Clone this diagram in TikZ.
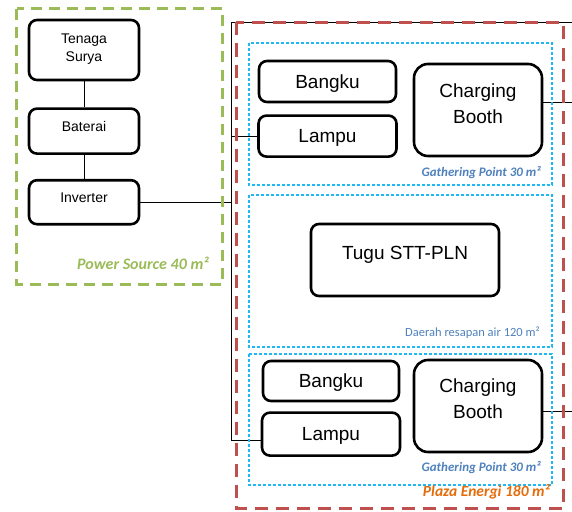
\documentclass[tikz,border=0pt]{standalone}
\usepackage{fontspec}
\setmainfont{Liberation Sans}
\newfontfamily\calfont{Carlito}
\usetikzlibrary{positioning}

\definecolor{psgreen}{RGB}{155,187,89}
\definecolor{plazared}{RGB}{192,80,77}
\definecolor{zoneblue}{RGB}{30,185,245}
\definecolor{lblblue}{RGB}{79,129,189}
\definecolor{lblorange}{RGB}{228,108,10}

\newcommand{\twolines}[2]{\begin{tabular}[b]{@{}c@{}}#1\\#2\end{tabular}}

\begin{document}
\begin{tikzpicture}[x=1pt,y=-1pt,thin,node distance=26pt]
  \tikzstyle{psbox}=[draw,line width=2.6pt,rounded corners=8pt,inner sep=0pt,
                     minimum width=110pt,font=\fontsize{14}{18}\selectfont,
                     text height=7pt,text depth=7pt]
  \tikzstyle{pzbox}=[draw,line width=2.6pt,rounded corners=8pt,inner sep=0pt,
                     font=\fontsize{19}{26}\selectfont,text height=14pt,text depth=1pt]
  \tikzstyle{cbbox}=[pzbox,rounded corners=14pt,minimum width=128pt,minimum height=92pt,
                     text height=36pt,text depth=10pt]
  \tikzstyle{zone}=[line width=1.1pt,zoneblue,dash pattern=on 3pt off 2pt]
  \tikzstyle{lbl}=[anchor=base east,inner sep=0pt]

  \useasboundingbox (0,0) rectangle (572,511);

  % power source
  \node[psbox,minimum height=60pt,text height=30pt,text depth=6pt] (ts) at (84,50)
        {\twolines{Tenaga}{Surya}};
  \node[psbox,minimum height=45pt] (bat) [below=26pt of ts] {Baterai};
  \node[psbox,minimum height=44pt] (inv) [below=24pt of bat] {Inverter};

  % plaza energi
  \node[pzbox,minimum width=137pt,minimum height=41pt] (bangku1) at (327.5,81.5) {Bangku};
  \node[pzbox,minimum width=138pt,minimum height=41pt] (lampu1) [below=11pt of bangku1] {Lampu};
  \node[cbbox,text height=37pt,text depth=11pt] (cb1) at (478,110) {\twolines{Charging}{Booth}};

  \node[pzbox,minimum width=188pt,minimum height=72pt,text height=8pt,text depth=10pt]
        (tugu) at (405,260) {Tugu STT-PLN};

  \node[pzbox,minimum width=136pt,minimum height=40pt] (bangku2) at (331,381) {Bangku};
  \node[pzbox,minimum width=138pt,minimum height=43pt] (lampu2) [below=9pt of bangku2] {Lampu};
  \node[cbbox,text height=35pt,text depth=11pt] (cb2) at (478,406) {\twolines{Charging}{Booth}};

  % cable
  \coordinate (bustop) at (231,22);
  \coordinate (busbot) at (231,440);
  \coordinate (rtop) at (572,22);
  \coordinate (rcb1) at (572,102);
  \coordinate (rcb2) at (572,411);

  \draw (ts) -- (bat);
  \draw (bat) -- (inv);
  \draw (inv.east) -- (inv.east -| bustop);
  \draw (rtop) -- (bustop) -- (busbot) -- (busbot -| lampu2.west);
  \draw (lampu1.west) -- (lampu1.west -| bustop);
  \draw (cb1.east |- rcb1) -- (rcb1);
  \draw (cb2.east |- rcb2) -- (rcb2);

  % areas
  \draw[psgreen,line width=3pt,dash pattern=on 11pt off 7pt] (16.5,9) rectangle (222,284);
  \draw[plazared,line width=3pt,dash pattern=on 13pt off 8pt] (236,22.5) rectangle (563,508);
  \draw[zone] (249,43) rectangle (552,185);
  \draw[zone] (249,195) rectangle (552,347);
  \draw[zone] (249,354) rectangle (552,485);

  \node[lbl,psgreen,font=\calfont\bfseries\itshape\fontsize{16}{18}\selectfont] (pslbl)
        at (209,269.5) {Power Source 40 m²};
  \node[lbl,lblblue,font=\calfont\bfseries\itshape\fontsize{13}{15}\selectfont] (gp1lbl)
        at (541,176.5) {Gathering Point 30 m²};
  \node[lbl,lblblue,font=\calfont\fontsize{12.5}{15}\selectfont] (drlbl)
        at (540,336.5) {Daerah resapan air 120 m²};
  \node[lbl,lblblue,font=\calfont\bfseries\itshape\fontsize{13}{15}\selectfont] (gp2lbl)
        at (541,471) {Gathering Point 30 m²};
  \node[lbl,lblorange,font=\calfont\bfseries\itshape\fontsize{15.5}{18}\selectfont] (pzlbl)
        at (550,496.5) {Plaza Energi 180 m²};
\end{tikzpicture}
\end{document}
